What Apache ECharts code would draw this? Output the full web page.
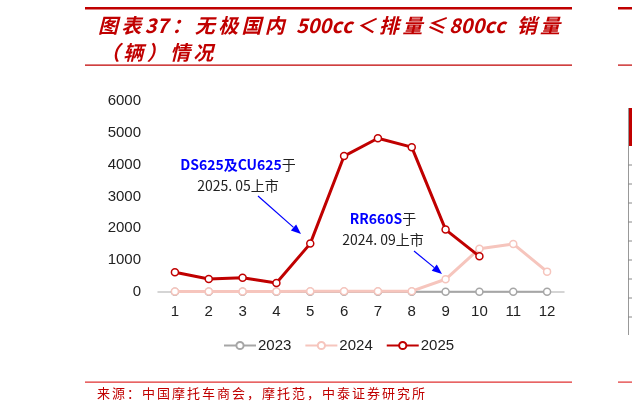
<!DOCTYPE html>
<html>
<head>
<meta charset="utf-8">
<script src="https://cdn.jsdelivr.net/npm/echarts@6/dist/echarts.min.js"></script>
<style>
html,body{margin:0;padding:0;background:#fff;}
#chart{width:632px;height:411px;}
</style>
</head>
<body>
<div id="chart"></div>
<script>
// 月份
var months = ['1','2','3','4','5','6','7','8','9','10','11','12'];
// 销量（辆）
var sales2023 = [5, 5, 5, 5, 5, 5, 5, 5, 5, 5, 5, 5];
var sales2024 = [15, 15, 15, 15, 20, 25, 25, 25, 400, 1360, 1510, 640];
var sales2025 = [620, 410, 450, 280, 1520, 4270, 4830, 4550, 1960, 1120];
var yTicks = [0, 6000, 1000];

var red = '#C00000';
var cjk = '"Noto Sans CJK SC", sans-serif';

var chart = echarts.init(document.getElementById('chart'));

// 逐字排版，中文字符之间加间距
var ctx = document.createElement('canvas').getContext('2d');
function wide(c) { return c.charCodeAt(0) > 127 || c === ' '; }
function gapCount(chars) {
    var n = 0;
    for (var i = 1; i < chars.length; i++) {
        if (wide(chars[i]) || wide(chars[i - 1])) n++;
    }
    return n;
}
function spaced(str, x, y, font, color, gap) {
    ctx.font = font;
    var out = [];
    var chars = Array.from(str);
    for (var i = 0; i < chars.length; i++) {
        if (i > 0 && (wide(chars[i]) || wide(chars[i - 1]))) x += gap;
        out.push({type: 'text', x: x, y: y, silent: true,
            style: {text: chars[i], font: font, fill: color, verticalAlign: 'middle'}});
        x += ctx.measureText(chars[i]).width;
    }
    return out;
}
function gapFor(str, font, width) {
    ctx.font = font;
    var chars = Array.from(str);
    var w = 0;
    chars.forEach(function (c) { w += ctx.measureText(c).width; });
    return (width - w) / gapCount(chars);
}

function arrow(x1, y1, x2, y2) {
    var a = Math.atan2(y2 - y1, x2 - x1);
    var len = 10, w = 4;
    var bx = x2 - len * Math.cos(a), by = y2 - len * Math.sin(a);
    return [
        {type: 'line', shape: {x1: x1, y1: y1, x2: bx, y2: by}, style: {stroke: '#0000FF', lineWidth: 1.2}},
        {type: 'polygon', shape: {points: [[x2, y2],
            [bx + w * Math.sin(a), by - w * Math.cos(a)],
            [bx - w * Math.sin(a), by + w * Math.cos(a)]]}, style: {fill: '#0000FF'}}
    ];
}

function note(cx, top, blue, rest) {
    return {
        type: 'text', x: cx, y: top,
        style: {
            text: '{b|' + blue + '}{k|于}\n{k|' + rest + '}',
            align: 'center', verticalAlign: 'top',
            rich: {
                b: {fill: '#0000FF', font: 'bold 14px ' + cjk, lineHeight: 21, align: 'center'},
                k: {fill: '#222', font: '14px ' + cjk, lineHeight: 21, align: 'center'}
            }
        }
    };
}

function seriesOf(name, data, color, width, z) {
    return {
        name: name,
        type: 'line',
        data: data,
        z: z,
        symbol: 'circle',
        symbolSize: 7,
        showAllSymbol: true,
        lineStyle: {color: color, width: width},
        itemStyle: {color: '#fff', borderColor: color, borderWidth: 1.5},
        emphasis: {disabled: true}
    };
}

var title1 = '图表37：无极国内 500cc＜排量≤800cc 销量';
var title2 = '（辆）情况';
var source = '来源：中国摩托车商会，摩托范，中泰证券研究所';
var titleFont = 'italic bold 20px ' + cjk;
var srcFont = '13px ' + cjk;
var tGap = gapFor(title1, titleFont, 462);
var sGap = gapFor(source, srcFont, 328);

var graphics = [
    // 标题框线
    {type: 'rect', shape: {x: 85, y: 7, width: 487, height: 2.5}, style: {fill: red}},
    {type: 'rect', shape: {x: 85, y: 64.5, width: 487, height: 1.2}, style: {fill: red}},
    // 来源框线
    {type: 'rect', shape: {x: 85, y: 381.5, width: 487, height: 1.2}, style: {fill: '#E03030'}},
    // 右侧相邻图
    {type: 'rect', shape: {x: 618, y: 7, width: 14, height: 2.5}, style: {fill: red}},
    {type: 'rect', shape: {x: 618, y: 64.5, width: 14, height: 1.2}, style: {fill: red}},
    {type: 'rect', shape: {x: 618, y: 381.5, width: 14, height: 1.2}, style: {fill: '#E03030'}},
    {type: 'rect', shape: {x: 628, y: 108, width: 4, height: 38}, style: {fill: red}},
    {type: 'line', shape: {x1: 628.5, y1: 108, x2: 628.5, y2: 335}, style: {stroke: '#999', lineWidth: 1}},
    // 注释
    note(238, 154, 'DS625及CU625', '2025. 05上市'),
    note(383, 208, 'RR660S', '2024. 09上市')
];
for (var i = 0; i < 9; i++) {
    graphics.push({type: 'line', shape: {x1: 628, y1: 165 + i * 19, x2: 632, y2: 165 + i * 19},
        style: {stroke: '#888', lineWidth: 1}});
}
graphics = graphics
    .concat(spaced(title1, 98, 25, titleFont, red, tGap))
    .concat(spaced(title2, 100, 52, titleFont, red, tGap))
    .concat(spaced(source, 97, 393, srcFont, red, sGap))
    .concat(arrow(258, 196, 301, 234), arrow(414, 251, 442, 274));

chart.setOption({
    animation: false,
    textStyle: {fontFamily: '"Liberation Sans", Arial, sans-serif'},
    grid: {left: 158, right: 68, top: 101, bottom: 119},
    legend: {
        left: 218,
        top: 333,
        itemWidth: 32,
        itemHeight: 9,
        itemGap: 13,
        textStyle: {color: '#222', fontSize: 15, padding: [0, 0, 0, -3]},
        data: ['2023', '2024', '2025']
    },
    xAxis: {
        type: 'category',
        data: months,
        axisLine: {lineStyle: {color: '#C8C8C8', width: 1.5}},
        axisTick: {show: false},
        axisLabel: {color: '#222', fontSize: 15, margin: 12}
    },
    yAxis: {
        type: 'value',
        min: yTicks[0],
        max: yTicks[1],
        interval: yTicks[2],
        axisLine: {show: false},
        axisTick: {show: false},
        splitLine: {show: false},
        axisLabel: {color: '#222', fontSize: 15, margin: 17, formatter: function (v) { return String(v); }}
    },
    series: [
        seriesOf('2023', sales2023, '#A6A6A6', 2, 2),
        seriesOf('2024', sales2024, '#F6C5BD', 3, 3),
        seriesOf('2025', sales2025, red, 3, 4)
    ],
    graphic: graphics
});
</script>
</body>
</html>
